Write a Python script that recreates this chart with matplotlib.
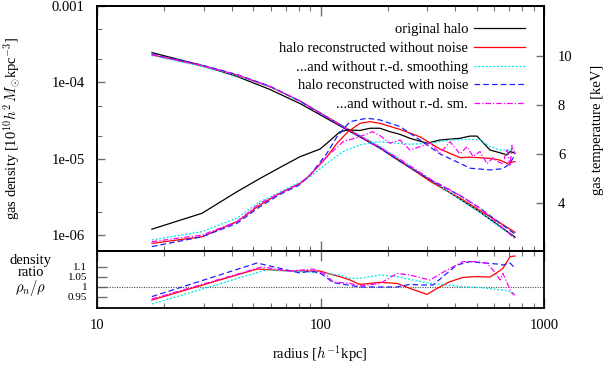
import numpy as np
import matplotlib
matplotlib.use("Agg")
import matplotlib.pyplot as plt
from matplotlib.ticker import FixedLocator, NullFormatter, FixedFormatter, LogLocator

plt.rcParams['font.family'] = ['Liberation Serif', 'DejaVu Serif']
plt.rcParams['mathtext.fontset'] = 'cm'
FS = 10.5

# ---------------- data ----------------
labels = ["original halo", "halo reconstructed without noise",
          "...and without r.-d. smoothing", "halo reconstructed with noise",
          "...and without r.-d. sm."]

# density profiles (same radii for all)
r_dens = [17.6, 29.5, 42.3, 59.4, 81, 128, 185, 227, 309, 421, 517, 742]
dens_orig = [2.46e-4, 1.67e-4, 1.20e-4, 8.1e-5, 5.3e-5, 2.51e-5, 1.38e-5, 9.3e-6, 5.3e-6, 2.98e-6, 2.02e-6, 9.5e-7]
dens_rec = [2.30e-4, 1.65e-4, 1.25e-4, 8.8e-5, 5.72e-5, 2.62e-5, 1.41e-5, 9.44e-6, 5.11e-6, 3.08e-6, 2.12e-6, 1.10e-6]
dens_rec_nosm = [2.25e-4, 1.62e-4, 1.22e-4, 8.8e-5, 5.7e-5, 2.62e-5, 1.46e-5, 9.77e-6, 5.40e-6, 2.98e-6, 2.01e-6, 9.2e-7]
dens_noise = [2.34e-4, 1.69e-4, 1.27e-4, 8.95e-5, 5.67e-5, 2.54e-5, 1.38e-5, 9.3e-6, 5.35e-6, 3.32e-6, 2.27e-6, 1.04e-6]
dens_noise_nosm = [2.31e-4, 1.67e-4, 1.26e-4, 8.87e-5, 5.75e-5, 2.56e-5, 1.40e-5, 9.9e-6, 5.49e-6, 3.34e-6, 2.28e-6, 9.1e-7]

# temperature profiles
r_T_orig = [17.6, 29.5, 42.3, 53.6, 65.9, 81, 99.5, 106.9, 122.3, 132.8, 150.2, 166.5, 184.6, 204.6,
            226.9, 251.4, 299.6, 342.5, 421, 466.7, 501.5, 573.4, 635.6, 683, 704.6, 741.7]
T_orig = [2.93, 3.58, 4.46, 5.0, 5.45, 5.89, 6.2, 6.44, 6.91, 6.98, 6.96, 7.05, 7.05, 6.91,
          6.8, 6.64, 6.44, 6.57, 6.64, 6.73, 6.73, 6.16, 6.05, 5.96, 6.1, 6.03]
r_T_rec = [17.6, 29.5, 42.3, 53.6, 65.9, 81, 89.8, 106.9, 118.6, 132.8, 150.2, 166.5, 184.6, 226.9,
           278.7, 342.5, 421, 466.7, 573.4, 635.6, 683, 741.7]
T_rec = [2.35, 2.62, 3.24, 3.92, 4.4, 4.8, 5.14, 5.89, 6.44, 6.91, 7.25, 7.32, 7.25, 7.0,
         6.7, 6.2, 5.85, 5.87, 5.82, 5.75, 5.62, 5.69]
r_T_rec_nosm = [17.6, 29.5, 42.3, 53.6, 65.9, 81, 89.8, 106.9, 126.1, 150.2, 178.9, 204.6, 251.4,
                309, 379.7, 466.7, 517.3, 573.4, 635.6, 726.6]
T_rec_nosm = [2.49, 2.83, 3.38, 4.05, 4.45, 4.85, 5.07, 5.62, 6.1, 6.37, 6.5, 6.46, 6.4,
              6.43, 6.57, 6.6, 6.57, 6.3, 6.16, 6.16]
r_T_noise = [17.6, 29.5, 42.3, 53.6, 65.9, 81, 89.8, 106.9, 118.6, 135.5, 161.5, 184.6, 226.9,
             278.7, 342.5, 421, 466.7, 573.4, 655.5, 704.6, 741.7]
T_noise = [2.22, 2.62, 3.17, 3.85, 4.35, 4.75, 5.14, 6.03, 6.71, 7.32, 7.46, 7.39, 7.12,
           6.57, 6.0, 5.62, 5.42, 5.35, 5.4, 5.62, 5.96]
r_T_noise_nosm = [17.6, 29.5, 42.3, 53.6, 65.9, 81, 89.8, 106.9, 126.1, 150.2, 171, 184.6, 204.6,
                  226.9, 251.4, 278.7, 309, 342.5, 379.7, 421, 452.5, 481.3, 517.3, 555.9, 591.4,
                  616.3, 655.5, 683, 704.6, 719.3, 741.7]
T_noise_nosm = [2.42, 2.69, 3.24, 3.99, 4.4, 4.8, 5.14, 5.89, 6.5, 6.71, 6.91, 6.75, 6.44,
                6.57, 6.16, 6.3, 6.44, 6.03, 6.5, 6.0, 6.3, 5.9, 6.1, 5.6, 5.85,
                5.7, 5.6, 6.2, 5.5, 6.35, 6.0]

# density ratio rho_n / rho
r_R_rec = [17.6, 52, 73, 99.5, 110, 122, 135.5, 150, 185, 220, 251, 300, 332, 380, 434, 501, 573,
           616, 655, 705, 742]
R_rec = [0.935, 1.09, 1.08, 1.08, 1.065, 1.052, 1.035, 1.013, 1.023, 1.018, 0.993, 0.963, 0.993,
         1.027, 1.048, 1.052, 1.05, 1.072, 1.093, 1.152, 1.155]
r_R_rec_nosm = [17.6, 57, 73, 99.5, 122, 135.5, 150, 166, 185, 220, 259, 309, 368, 434, 517, 616, 683, 742]
R_rec_nosm = [0.915, 1.085, 1.08, 1.07, 1.06, 1.043, 1.043, 1.052, 1.06, 1.052, 1.035, 1.018,
              1.01, 1.002, 0.997, 0.988, 0.982, 0.968]
r_R_noise = [17.6, 52, 59.4, 81, 89.8, 99.5, 114, 150, 220, 251, 287, 319, 353, 408, 467, 534,
             616, 655, 705, 742]
R_noise = [0.952, 1.12, 1.105, 1.07, 1.08, 1.07, 1.022, 1.0, 1.0, 1.013, 1.01, 1.01, 1.052, 1.11,
           1.127, 1.12, 1.115, 1.11, 1.12, 1.093]
r_R_noise_nosm = [17.6, 54.5, 73, 93, 106, 114, 135.5, 150, 185, 220, 251, 309, 368, 434, 501,
                  556, 591, 636, 655, 690, 719, 742]
R_noise_nosm = [0.94, 1.1, 1.08, 1.09, 1.06, 1.025, 1.018, 1.005, 1.018, 1.068, 1.06, 1.035,
                1.085, 1.127, 1.127, 1.118, 1.085, 1.035, 1.068, 1.01, 0.968, 0.96]

x_ticks = [10, 100, 1000]
x_ticklabels = ["10", "100", "1000"]
dens_ticks = [1e-3, 1e-4, 1e-5, 1e-6]
dens_ticklabels = ["0.001", "1e-04", "1e-05", "1e-06"]
T_ticks = [4, 6, 8, 10]
ratio_ticks = [0.95, 1.0, 1.05, 1.1]
ratio_ticklabels = ["0.95", "1", "1.05", "1.1"]

# ---------------- styles ----------------
colors = ["black", "#ff0000", "#00e8e8", "#2020ff", "#ff00ff"]
styles = ["-", "-", (0, (1.6, 1.4)), (0, (4.5, 2.5)), (0, (4.5, 1.6, 1.0, 1.6))]
LW = 0.9

fig = plt.figure(figsize=(6.1, 3.65), dpi=100)
W, H = 610.0, 365.0
x0, x1 = 97, 544
ax = fig.add_axes([x0 / W, 1 - 251 / H, (x1 - x0) / W, 245 / H])
axr = fig.add_axes([x0 / W, 1 - 308 / H, (x1 - x0) / W, 57 / H])
ax2 = ax.twinx()

dens_sets = [dens_orig, dens_rec, dens_rec_nosm, dens_noise, dens_noise_nosm]
T_sets = [(r_T_orig, T_orig), (r_T_rec, T_rec), (r_T_rec_nosm, T_rec_nosm),
          (r_T_noise, T_noise), (r_T_noise_nosm, T_noise_nosm)]
R_sets = [(r_R_rec, R_rec), (r_R_rec_nosm, R_rec_nosm), (r_R_noise, R_noise),
          (r_R_noise_nosm, R_noise_nosm)]

for i in range(5):
    ax.plot(r_dens, dens_sets[i], color=colors[i], ls=styles[i], lw=LW)
handles = []
for i in range(5):
    h, = ax2.plot(T_sets[i][0], T_sets[i][1], color=colors[i], ls=styles[i], lw=LW, label=labels[i])
    handles.append(h)

axr.axhline(1.0, color="#505050", ls=(0, (1, 1.2)), lw=0.8)
for i in range(4):
    axr.plot(R_sets[i][0], R_sets[i][1], color=colors[i + 1], ls=styles[i + 1], lw=LW)

# ---------------- axes ----------------
for a in (ax, axr):
    a.set_xscale("log")
    a.set_xlim(10, 1000)
    a.xaxis.set_major_locator(FixedLocator(x_ticks))
    a.xaxis.set_minor_locator(LogLocator(base=10, subs=np.arange(2, 10)))
    a.xaxis.set_minor_formatter(NullFormatter())
ax.set_xticklabels([])
axr.set_xticklabels(x_ticklabels)

ax.set_yscale("log")
ax.set_ylim(6.26e-7, 1.0e-3)
ax.yaxis.set_major_locator(FixedLocator(dens_ticks))
ax.yaxis.set_major_formatter(FixedFormatter(dens_ticklabels))
ax.yaxis.set_minor_locator(LogLocator(base=10, subs=[2.0, 5.0]))
ax.yaxis.set_minor_formatter(NullFormatter())

ax2.set_ylim(2.04, 12.04)
ax2.yaxis.set_major_locator(FixedLocator(T_ticks))

axr.set_ylim(0.895, 1.18)
axr.yaxis.set_major_locator(FixedLocator(ratio_ticks))
axr.yaxis.set_major_formatter(FixedFormatter(ratio_ticklabels))

tc = "#707070"
ax.tick_params(axis="x", which="both", direction="in", top=True, bottom=True, color=tc)
ax.tick_params(axis="x", which="major", length=7, width=1.0)
ax.tick_params(axis="x", which="minor", length=3.5, width=0.8)
ax.tick_params(axis="y", which="major", direction="in", left=True, right=False, length=6, width=1.0,
               color=tc, labelsize=FS, pad=9)
ax.tick_params(axis="y", which="minor", direction="in", left=True, right=False, length=3.5, width=0.8, color=tc)
ax2.tick_params(axis="y", which="major", direction="in", length=6, width=1.0, color=tc, labelsize=FS, pad=10)
axr.tick_params(axis="x", which="both", direction="in", top=True, bottom=True, color=tc, labelsize=FS, pad=8)
axr.tick_params(axis="x", which="major", length=7, width=1.0)
axr.tick_params(axis="x", which="minor", length=3.5, width=0.8)
axr.tick_params(axis="y", which="major", direction="in", left=True, right=False, length=7, width=1.0,
                color=tc, labelsize=8, pad=7)
axr.tick_params(axis="y", which="minor", left=False, right=False)

for a in (ax, ax2, axr):
    for s in a.spines.values():
        s.set_linewidth(1.3)
        s.set_color("black")

# ---------------- labels ----------------
fig.text(12 / W, 1 - 128 / H, r"gas density [10$^{10}h^2\,M_{\odot}$kpc$^{-3}$]", rotation=90,
         ha="center", va="center", fontsize=FS)
fig.text(597 / W, 1 - 130 / H, "gas temperature [keV]", rotation=90, ha="center", va="center", fontsize=FS)
fig.text(31 / W, 1 - 276 / H, "density\nratio\n" + r"$\rho_n/\rho$", ha="center", va="center",
         fontsize=FS, linespacing=0.9)
fig.text(320 / W, 1 - 354 / H, r"radius [$h^{-1}$kpc]", ha="center", va="center", fontsize=FS)

leg = ax2.legend(handles=handles, loc="upper right", bbox_to_anchor=(1 - 19 / 447, 1 - 17 / 245),
                 frameon=False, markerfirst=False, fontsize=FS, handlelength=3.5, handletextpad=0.4,
                 labelspacing=0.38, borderpad=0, borderaxespad=0)

fig.savefig("out.png", dpi=100)
